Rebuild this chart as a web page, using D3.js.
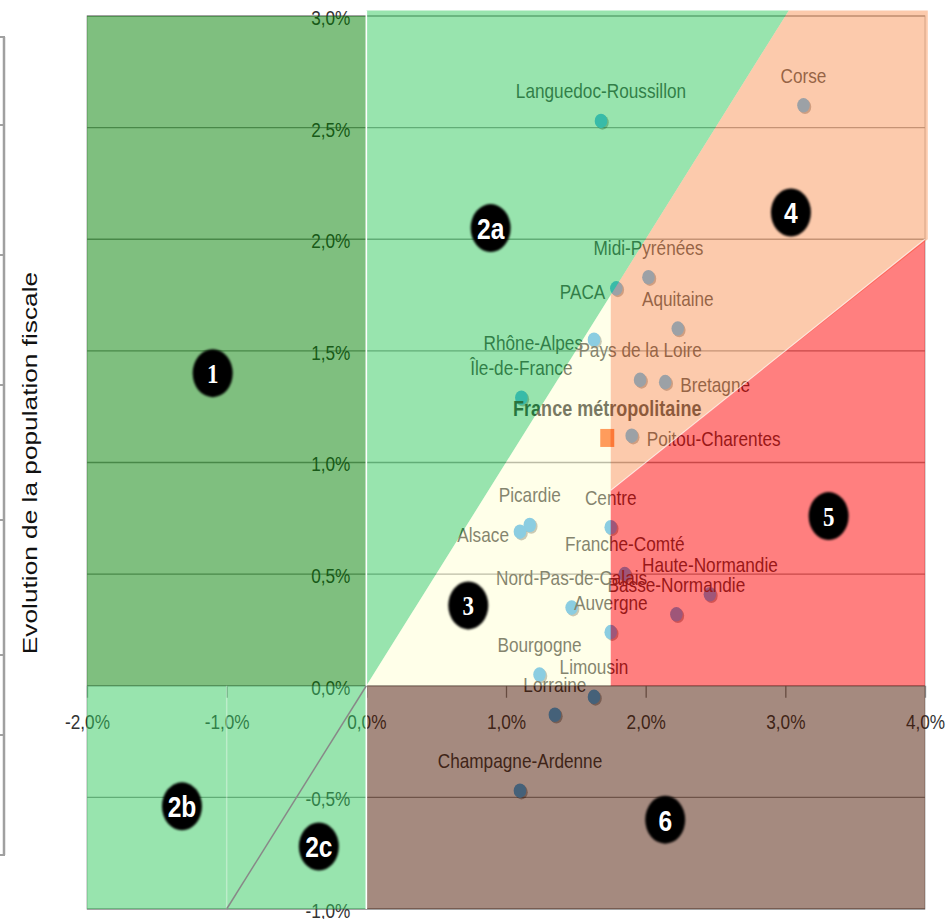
<!DOCTYPE html>
<html>
<head>
<meta charset="utf-8">
<script src="https://cdn.jsdelivr.net/npm/d3@7"></script>
<style>
  body { margin: 0; background: #fff; }
  svg text { font-family: "Liberation Sans", Arial, sans-serif; }
</style>
</head>
<body>
<script>
// régions : évolution du revenu (x) et de la population fiscale (y), en %
const regions = ['Languedoc-Roussillon', 'Corse', 'Midi-Pyrénées', 'PACA', 'Aquitaine', 'Rhône-Alpes',
  'Pays de la Loire', 'Bretagne', 'Île-de-France', 'Poitou-Charentes', 'Picardie', 'Alsace', 'Centre',
  'Franche-Comté', 'Haute-Normandie', 'Basse-Normandie', 'Nord-Pas-de-Calais', 'Auvergne', 'Bourgogne',
  'Limousin', 'Lorraine', 'Champagne-Ardenne'];
const evolRevenu = [1.68, 3.13, 2.02, 1.79, 2.23, 1.63, 1.96, 2.14, 1.11, 1.90, 1.17, 1.10, 1.75,
  1.85, 2.46, 2.22, 1.47, 1.75, 1.24, 1.63, 1.35, 1.10];
const evolPop = [2.53, 2.60, 1.83, 1.78, 1.60, 1.55, 1.37, 1.36, 1.29, 1.12, 0.72, 0.69, 0.71,
  0.50, 0.41, 0.32, 0.35, 0.24, 0.05, -0.05, -0.13, -0.47];

const franceLabel = 'France métropolitaine';
const franceRevenu = 1.725;
const francePop = 1.11;

// zones numérotées
const zoneNames = ['1', '2a', '2b', '2c', '3', '4', '5', '6'];
const zoneX = [-1.10, 0.89, -1.32, -0.34, 0.73, 3.04, 3.31, 2.14];
const zoneY = [1.40, 2.05, -0.54, -0.72, 0.36, 2.12, 0.76, -0.60];

const xTicks = [-2, -1, 0, 1, 2, 3, 4];
const yTicks = [-1, -0.5, 0, 0.5, 1, 1.5, 2, 2.5, 3];

// seuils des zones
const seuilX = 1.75;   // France
const pente5 = 0.5;    // limite zones 4 / 5

const w = 947, h = 919;
const sx = 0.82; // texte étroit (image d'origine étirée en hauteur)
const svg = d3.select('body').append('svg').attr('width', w).attr('height', h);

const x = d3.scaleLinear().domain([-2, 4]).range([87, 925]);
const y = d3.scaleLinear().domain([-1, 3]).range([909, 16]);
const fmt = v => (v < 0 ? '-' : '') + Math.abs(v).toFixed(1).replace('.', ',') + '%';

// cadre gris à gauche
const frame = svg.append('g').attr('stroke', '#a0a0a0').attr('fill', 'none');
frame.append('line').attr('x1', 4).attr('x2', 4).attr('y1', 37).attr('y2', 855).attr('stroke-width', 2.5);
[37, 125, 255, 385, 520, 655, 735, 855].forEach(t => {
  frame.append('line').attr('x1', 0).attr('x2', 5).attr('y1', t).attr('y2', t).attr('stroke-width', 2);
});

// grille
svg.append('rect').attr('x', x(-2)).attr('y', y(3)).attr('width', x(4) - x(-2)).attr('height', y(-1) - y(3))
   .attr('fill', 'none').attr('stroke', '#b0b0b0');
svg.append('g').selectAll('line').data(yTicks).enter().append('line')
   .attr('x1', x(-2)).attr('x2', x(4)).attr('y1', d => y(d)).attr('y2', d => y(d))
   .attr('stroke', '#909090').attr('stroke-width', 1.3);

// axes
const yAxis = d3.axisLeft(y).tickValues(yTicks).tickFormat(fmt).tickSize(0).tickPadding(16);
const gy = svg.append('g').attr('transform', 'translate(' + x(0) + ',0)').call(yAxis);
gy.select('.domain').remove();
gy.selectAll('text').attr('font-size', 21).attr('fill', '#333').attr('dy', '0.4em')
  .attr('x', -16 / sx).attr('transform', 'scale(' + sx + ',1)');

const xAxis = d3.axisBottom(x).tickValues(xTicks).tickFormat(fmt).tickSize(12).tickPadding(16);
const gx = svg.append('g').attr('transform', 'translate(0,' + y(0) + ')').call(xAxis);
gx.select('.domain').remove();
gx.selectAll('line').attr('stroke', '#808080').attr('stroke-width', 1.3);
gx.selectAll('text').attr('font-size', 21).attr('fill', '#333').attr('transform', 'scale(' + sx + ',1)');

// points
const pts = regions.map((n, i) => ({ name: n, x: evolRevenu[i], y: evolPop[i] }));
const leftLabels = ['PACA', 'Rhône-Alpes', 'Alsace'];
const rightLabels = ['Bretagne', 'Poitou-Charentes'];
const side = n => leftLabels.includes(n) ? 'l' : rightLabels.includes(n) ? 'r' : 't';

svg.append('g').selectAll('ellipse').data(pts).enter().append('ellipse')
   .attr('cx', d => x(d.x) + 1.5).attr('cy', d => y(d.y) + 1.5).attr('rx', 6.3).attr('ry', 7.3)
   .attr('fill', 'rgba(0,0,0,0.35)');
svg.append('g').selectAll('ellipse').data(pts).enter().append('ellipse')
   .attr('cx', d => x(d.x)).attr('cy', d => y(d.y)).attr('rx', 6.3).attr('ry', 7.3)
   .attr('fill', '#3facf2');

svg.append('rect').attr('x', x(franceRevenu) - 7).attr('y', y(francePop) - 9)
   .attr('width', 14).attr('height', 18).attr('fill', '#ff5a14');

svg.append('g').selectAll('text').data(pts).enter().append('text')
   .attr('transform', d => {
     const s = side(d.name);
     const tx = s === 'l' ? x(d.x) - 11 : s === 'r' ? x(d.x) + 15 : x(d.x);
     const ty = s === 't' ? y(d.y) - 30 : y(d.y) + 3;
     return 'translate(' + tx + ',' + ty + ') scale(' + sx + ',1)';
   })
   .attr('dy', '0.35em')
   .attr('text-anchor', d => ({ l: 'end', r: 'start', t: 'middle' })[side(d.name)])
   .attr('font-size', 21).attr('fill', '#333')
   .text(d => d.name);

svg.append('text')
   .attr('transform', 'translate(' + x(franceRevenu) + ',' + (y(francePop) - 30) + ') scale(' + sx + ',1)')
   .attr('dy', '0.35em').attr('text-anchor', 'middle').attr('font-size', 22).attr('font-weight', 'bold')
   .attr('fill', '#1e1e1e')
   .text(franceLabel);

// zones (formes semi-transparentes par-dessus)
const yTop = 3.025;
const zones = [
  { fill: 'rgb(0,127,0)', op: 0.5, poly: [[-2, 0], [0, 0], [0, 3], [-2, 3]] },
  { fill: 'rgb(49,201,93)', op: 0.5, poly: [[0, 0], [yTop, yTop], [0, yTop]] },
  { fill: 'rgb(49,201,93)', op: 0.5, poly: [[-2, -1], [0, -1], [0, 0], [-2, 0]] },
  { fill: 'rgb(255,255,200)', op: 0.4, poly: [[0, 0], [seuilX, seuilX], [seuilX, 0]] },
  { fill: 'rgb(249,149,89)', op: 0.5, poly: [[seuilX, seuilX * pente5], [seuilX, seuilX], [yTop, yTop], [4.02, yTop], [4.02, 4 * pente5]] },
  { fill: 'rgb(255,0,0)', op: 0.5, poly: [[seuilX, 0], [seuilX, seuilX * pente5], [4, 4 * pente5], [4, 0]] },
  { fill: 'rgb(75,21,0)', op: 0.5, poly: [[0, -1], [4, -1], [4, 0], [0, 0]] }
];
svg.append('g').selectAll('polygon').data(zones).enter().append('polygon')
   .attr('points', d => d.poly.map(p => x(p[0]) + ',' + y(p[1])).join(' '))
   .attr('fill', d => d.fill).attr('fill-opacity', d => d.op);

// séparations
svg.append('line').attr('x1', x(0)).attr('x2', x(0)).attr('y1', y(yTop)).attr('y2', y(-1))
   .attr('stroke', '#fff').attr('stroke-width', 1.6);
svg.append('line').attr('x1', x(-1)).attr('x2', x(-1)).attr('y1', y(0)).attr('y2', y(-1))
   .attr('stroke', '#fff').attr('stroke-opacity', 0.35).attr('stroke-width', 1.5);
svg.append('line').attr('x1', x(seuilX)).attr('x2', x(4)).attr('y1', y(seuilX * pente5)).attr('y2', y(4 * pente5))
   .attr('stroke', '#fff').attr('stroke-opacity', 0.7).attr('stroke-width', 1.2);
svg.append('line').attr('x1', x(-1)).attr('x2', x(0)).attr('y1', y(-1)).attr('y2', y(0))
   .attr('stroke', '#888').attr('stroke-width', 1.5);

// pastilles
const defs = svg.append('defs');
defs.append('filter').attr('id', 'soft').append('feGaussianBlur').attr('stdDeviation', 0.9);
const serifZones = ['1', '3', '5'];
const badges = svg.append('g').selectAll('g').data(zoneNames).enter().append('g')
   .attr('transform', (d, i) => 'translate(' + x(zoneX[i]) + ',' + y(zoneY[i]) + ')');
badges.append('ellipse').attr('rx', 20).attr('ry', 24).attr('fill', '#000').attr('filter', 'url(#soft)');
badges.append('text').attr('text-anchor', 'middle').attr('dy', '0.36em')
   .attr('fill', '#fff').attr('font-weight', 'bold')
   .attr('font-size', d => serifZones.includes(d) ? 28 : 30)
   .attr('transform', 'scale(' + sx + ',1)')
   .style('font-family', d => serifZones.includes(d) ? '"Liberation Serif", "Times New Roman", serif' : null)
   .text(d => d);

// titre de l'axe
svg.append('text').attr('transform', 'translate(30,' + 463 + ') rotate(-90) scale(1.25,1)')
   .attr('text-anchor', 'middle').attr('dy', '0.35em').attr('font-size', 21).attr('fill', '#111')
   .text('Evolution de la population fiscale');
</script>
</body>
</html>
